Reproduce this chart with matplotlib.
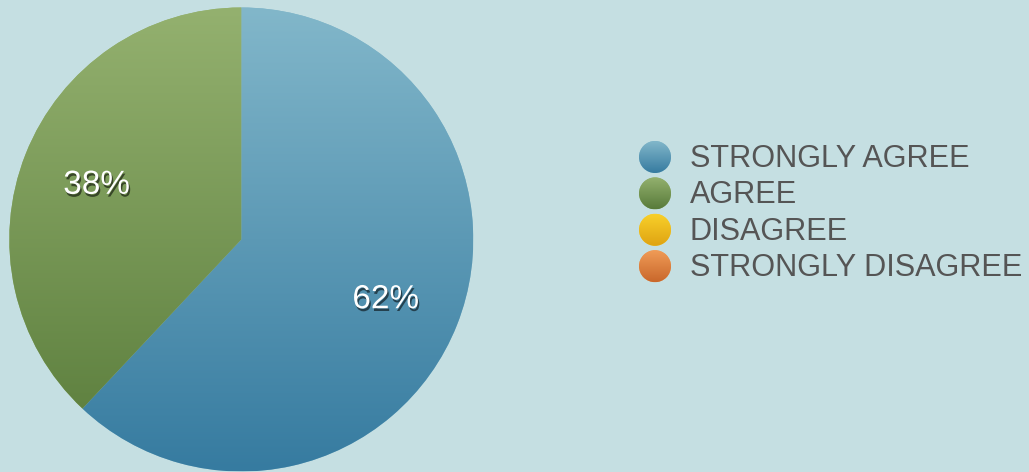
"""
Survey pie: share of answers, with a vertical gradient on each slice.
Writes out.png.
"""
import numpy as np
import matplotlib.pyplot as plt
import matplotlib.patheffects as pe
from matplotlib.colors import LinearSegmentedColormap
from matplotlib.patches import Circle

labels = ["STRONGLY AGREE", "AGREE", "DISAGREE", "STRONGLY DISAGREE"]
values = [62, 38, 0, 0]
tops = ["#82b7ca", "#94b16f", "#f8d02a", "#f09c57"]
bottoms = ["#367ba0", "#587b3a", "#dfa312", "#c9672b"]

BG = "#c5dfe2"
W, H = 1029, 472
fig = plt.figure(figsize=(W / 100, H / 100), dpi=100, facecolor=BG)
ax = fig.add_axes([0, 0, 1, 1])
ax.set_xlim(0, W); ax.set_ylim(0, H); ax.set_aspect("equal"); ax.axis("off")

cx, cy, r = 241.3, 232.5, 232
grad = np.linspace(1, 0, 256).reshape(-1, 1)   # top -> bottom

def fill_gradient(patch, top, bot, extent):
    cmap = LinearSegmentedColormap.from_list("g", [bot, top])
    im = ax.imshow(grad, cmap=cmap, vmin=0, vmax=1, extent=extent,
                   origin="upper", aspect="auto", interpolation="bicubic", zorder=2)
    im.set_clip_path(patch)

shown = [v for v in values if v > 0]
wedges, _, autotexts = ax.pie(shown, startangle=90, counterclock=False,
                              center=(cx, cy), radius=r, frame=True,
                              autopct="%d%%", pctdistance=0.67,
                              colors=tops[:len(shown)],
                              wedgeprops=dict(linewidth=0))
ax.set_xlim(0, W); ax.set_ylim(0, H); ax.axis("off")
for w, t, b in zip(wedges, tops, bottoms):
    fill_gradient(w, t, b, (cx - r, cx + r, cy - r, cy + r))

shadow = [pe.SimplePatchShadow(offset=(1, -2), shadow_rgbFace="black", alpha=0.55),
          pe.Normal()]
for t in autotexts:
    t.set_color("white"); t.set_fontsize(24); t.set_family("Liberation Sans")
    t.set_path_effects(shadow); t.set_zorder(5)
    x, y = t.get_position(); t.set_position((x, y - 3))

# legend: gradient dots + labels
lx, ly0, dy, lr = 655, H - 157, 36.4, 16
for i, (lab, t, b) in enumerate(zip(labels, tops, bottoms)):
    y = ly0 - i * dy
    c = Circle((lx, y), lr, facecolor=t, edgecolor="none", zorder=2)
    ax.add_patch(c)
    fill_gradient(c, t, b, (lx - lr, lx + lr, y - lr, y + lr))
    ax.text(lx + 35, y - 2, lab, fontsize=22.1, color="#555555", va="center",
            ha="left", family="Liberation Sans", zorder=5)

fig.savefig("out.png", dpi=100, facecolor=BG)
